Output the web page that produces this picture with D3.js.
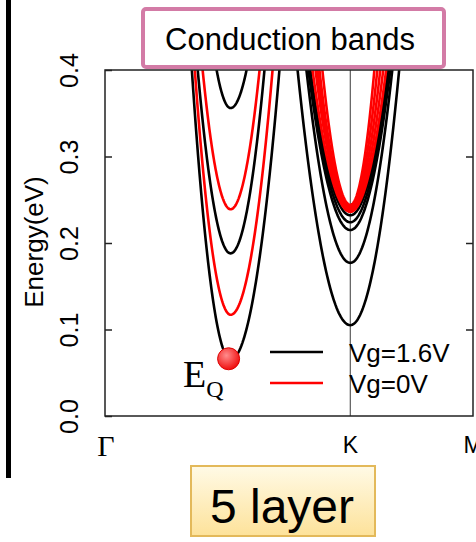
<!DOCTYPE html>
<html>
<head>
<meta charset="utf-8">
<script src="https://cdn.jsdelivr.net/npm/d3@7"></script>
<style>
  body { margin: 0; background: #fff; }
  svg { display: block; font-family: "Liberation Sans", Arial, sans-serif; }
</style>
</head>
<body>
<svg id="chart" width="476" height="542"></svg>
<script>
// k-path labels (|KM| = |ΓK| / 2)
const kPoints = ['Γ', 'K', 'M'];
const kPositions = [0, 1, 1.5];
const energyTicks = [0.0, 0.1, 0.2, 0.3, 0.4];
const rightTicks = [0.1, 0.2, 0.3];

// Q valley: band minimum (eV) and where each branch leaves the top of the plot (k)
const qValleyK = 0.512;
const qBlackMin = [0.065, 0.188, 0.356];
const qBlackLeft = [0.354, 0.378, 0.455];
const qBlackRight = [0.711, 0.650, 0.577];
const qRedMin = [0.117, 0.239];
const qRedLeft = [0.366, 0.398];
const qRedRight = [0.683, 0.630];

// K valley
const kValleyK = 1.0;
const kBlackMin = [0.105, 0.177, 0.215, 0.224, 0.232];
const kBlackLeft = [0.785, 0.821, 0.829, 0.833, 0.837];
const kBlackRight = [1.199, 1.171, 1.163, 1.159, 1.154];
const kRedMin = [0.236, 0.238, 0.240, 0.242, 0.244];
const kRedLeft = [0.846, 0.858, 0.866, 0.874, 0.886];
const kRedRight = [1.146, 1.134, 1.122, 1.110, 1.098];

const legendLabels = ['Vg=1.6V', 'Vg=0V'];
const legendColors = ['#000000', '#ff0000'];

const plot = { left: 105, right: 473, top: 70, bottom: 416 };
const svg = d3.select('#chart');

const x = d3.scaleLinear().domain([0, 1.5]).range([plot.left, plot.right]);
const y = d3.scaleLinear().domain([0, 0.4]).range([plot.bottom, plot.top]);

const defs = svg.append('defs');
defs.append('clipPath').attr('id', 'plot-clip')
  .append('rect')
  .attr('x', plot.left).attr('y', plot.top)
  .attr('width', plot.right - plot.left).attr('height', plot.bottom - plot.top);

const dotGrad = defs.append('radialGradient').attr('id', 'dot-grad')
  .attr('cx', '40%').attr('cy', '35%').attr('r', '65%');
dotGrad.append('stop').attr('offset', '0%').attr('stop-color', '#ff8c8c');
dotGrad.append('stop').attr('offset', '100%').attr('stop-color', '#f01010');

const boxGrad = defs.append('linearGradient').attr('id', 'box-grad')
  .attr('x1', 0).attr('y1', 0).attr('x2', 0).attr('y2', 1);
boxGrad.append('stop').attr('offset', '0%').attr('stop-color', '#fffae6');
boxGrad.append('stop').attr('offset', '100%').attr('stop-color', '#fde29a');

// thick bar on the left
svg.append('rect')
  .attr('x', 6).attr('y', 0).attr('width', 5).attr('height', 478)
  .attr('fill', '#000');

// bands: parabola through the minimum and the two top crossings
function bandPoints(eMin, k0, kL, kR) {
  const pts = [];
  for (let t = -1.2; t <= 1.2001; t += 0.02) {
    const k = k0 + t * (t < 0 ? k0 - kL : kR - k0);
    pts.push([k, eMin + (0.4 - eMin) * t * t]);
  }
  return pts;
}

const line = d3.line().x(d => x(d[0])).y(d => y(d[1]));

function buildBands(mins, lefts, rights, k0, color) {
  return mins.map((m, i) => ({ pts: bandPoints(m, k0, lefts[i], rights[i]), color }));
}

const bands = [
  ...buildBands(qBlackMin, qBlackLeft, qBlackRight, qValleyK, legendColors[0]),
  ...buildBands(qRedMin, qRedLeft, qRedRight, qValleyK, legendColors[1]),
  ...buildBands(kBlackMin, kBlackLeft, kBlackRight, kValleyK, legendColors[0]),
  ...buildBands(kRedMin, kRedLeft, kRedRight, kValleyK, legendColors[1])
];

const g = svg.append('g').attr('clip-path', 'url(#plot-clip)');

// K vertical line
g.append('line')
  .attr('x1', x(kPositions[1])).attr('x2', x(kPositions[1]))
  .attr('y1', plot.top).attr('y2', plot.bottom)
  .attr('stroke', '#666').attr('stroke-width', 1.3);

g.selectAll('path.band')
  .data(bands)
  .enter()
  .append('path')
  .attr('class', 'band')
  .attr('d', d => line(d.pts))
  .attr('fill', 'none')
  .attr('stroke', d => d.color)
  .attr('stroke-width', 2.6);

// frame
svg.append('rect')
  .attr('x', plot.left).attr('y', plot.top)
  .attr('width', plot.right - plot.left).attr('height', plot.bottom - plot.top)
  .attr('fill', 'none').attr('stroke', '#222').attr('stroke-width', 1.5);

// left axis, inward ticks, rotated labels
const yAxis = svg.append('g')
  .attr('transform', `translate(${plot.left},0)`)
  .call(d3.axisLeft(y).tickValues(energyTicks).tickSize(-7).tickFormat(d3.format('.1f')));
yAxis.select('.domain').remove();
yAxis.selectAll('line').attr('stroke', '#222').attr('stroke-width', 1.5);
yAxis.selectAll('text')
  .attr('transform', 'rotate(-90)')
  .attr('x', 0).attr('y', -27).attr('dy', 0)
  .attr('text-anchor', 'middle')
  .attr('font-size', 25)
  .attr('font-family', '"Liberation Sans", Arial, sans-serif')
  .attr('fill', '#000');

const yAxisR = svg.append('g')
  .attr('transform', `translate(${plot.right},0)`)
  .call(d3.axisRight(y).tickValues(rightTicks).tickSize(-7).tickFormat(''));
yAxisR.select('.domain').remove();
yAxisR.selectAll('line').attr('stroke', '#222').attr('stroke-width', 1.5);

svg.append('text')
  .attr('transform', 'translate(43,242) rotate(-90)')
  .attr('text-anchor', 'middle')
  .attr('font-size', 26)
  .text('Energy(eV)');

// k-point labels
svg.selectAll('text.kpt')
  .data(kPoints)
  .enter()
  .append('text')
  .attr('class', 'kpt')
  .attr('x', (d, i) => x(kPositions[i]) + (i === 0 ? 1 : 0))
  .attr('y', (d, i) => i === 0 ? 456 : 453)
  .attr('text-anchor', 'middle')
  .attr('font-family', (d, i) => i === 0 ? '"Liberation Serif", "Times New Roman", serif' : null)
  .attr('font-size', (d, i) => i === 0 ? 30 : 23)
  .text(d => d);

// legend
const legend = svg.append('g');
legendLabels.forEach((label, i) => {
  const ly = 352 + i * 31;
  legend.append('line')
    .attr('x1', 270).attr('x2', 323).attr('y1', ly).attr('y2', ly)
    .attr('stroke', legendColors[i]).attr('stroke-width', 2.5);
  legend.append('text')
    .attr('x', 349).attr('y', ly + 10)
    .attr('font-size', 26)
    .text(label);
});

// E_Q marker
svg.append('circle')
  .attr('cx', x(qValleyK) - 2).attr('cy', y(qBlackMin[0]) - 1)
  .attr('r', 11)
  .attr('fill', 'url(#dot-grad)')
  .attr('stroke', '#d00').attr('stroke-width', 1);

const eq = svg.append('text')
  .attr('x', 183).attr('y', 387)
  .attr('font-family', '"Liberation Serif", "Times New Roman", serif')
  .attr('font-size', 38);
eq.append('tspan').text('E');
eq.append('tspan').attr('font-size', 24).attr('dy', 10).text('Q');

// title box
svg.append('rect')
  .attr('x', 143).attr('y', 9).attr('width', 301).attr('height', 58)
  .attr('rx', 3)
  .attr('fill', '#fff').attr('stroke', '#d37ba6').attr('stroke-width', 4);
svg.append('text')
  .attr('x', 290).attr('y', 50)
  .attr('text-anchor', 'middle')
  .attr('font-size', 31)
  .text('Conduction bands');

// layer box
svg.append('rect')
  .attr('x', 191).attr('y', 466).attr('width', 184).attr('height', 70)
  .attr('fill', 'url(#box-grad)').attr('stroke', '#e3b95a').attr('stroke-width', 2);
svg.append('text')
  .attr('x', 282).attr('y', 523)
  .attr('text-anchor', 'middle')
  .attr('font-size', 48)
  .text('5 layer');
</script>
</body>
</html>
